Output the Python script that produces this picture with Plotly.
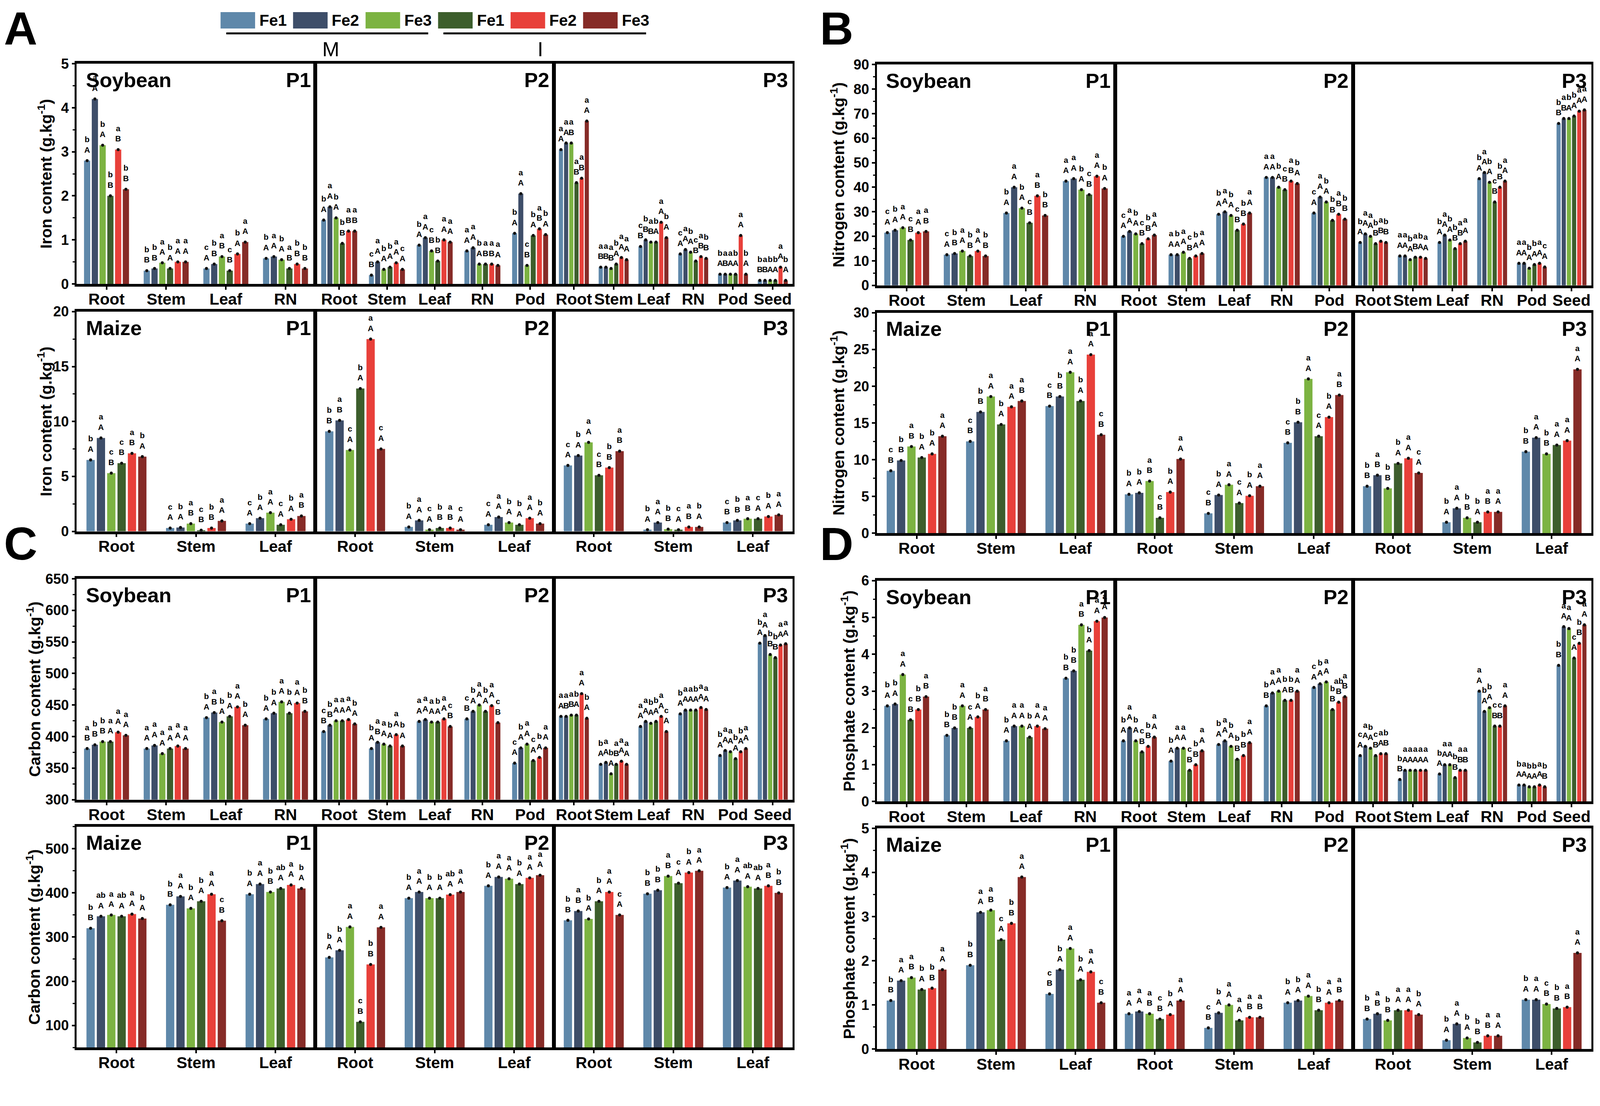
import plotly.graph_objects as go

treatments = ["Fe1", "Fe2", "Fe3", "Fe1", "Fe2", "Fe3"]
colors = ["#5f88aa", "#3e4e69", "#7cb342", "#3d5e2c", "#e8403a", "#862b27"]

soy_organs_p1 = ["Root", "Stem", "Leaf", "RN"]
soy_organs_p2 = ["Root", "Stem", "Leaf", "RN", "Pod"]
soy_organs_p3 = ["Root", "Stem", "Leaf", "RN", "Pod", "Seed"]
maize_organs = ["Root", "Stem", "Leaf"]

# one row per organ; columns: M-Fe1, M-Fe2, M-Fe3, I-Fe1, I-Fe2, I-Fe3
iron_soy_p1 = [[2.8, 4.2, 3.15, 2.0, 3.05, 2.15],
               [0.3, 0.35, 0.48, 0.35, 0.5, 0.5],
               [0.35, 0.45, 0.62, 0.3, 0.68, 0.95],
               [0.58, 0.62, 0.55, 0.35, 0.45, 0.35]]
iron_soy_p2 = [[1.45, 1.75, 1.5, 0.92, 1.2, 1.2],
               [0.2, 0.5, 0.33, 0.38, 0.48, 0.33],
               [0.88, 1.05, 0.75, 0.52, 1.0, 0.95],
               [0.75, 0.82, 0.45, 0.45, 0.45, 0.42],
               [1.15, 2.05, 0.42, 1.1, 1.25, 1.12]]
iron_soy_p3 = [[3.05, 3.2, 3.2, 2.3, 2.4, 3.7],
               [0.38, 0.38, 0.35, 0.45, 0.6, 0.55],
               [0.85, 1.0, 0.95, 0.95, 1.4, 1.05],
               [0.68, 0.78, 0.72, 0.52, 0.62, 0.58],
               [0.22, 0.22, 0.22, 0.22, 1.1, 0.22],
               [0.08, 0.08, 0.08, 0.08, 0.38, 0.08]]
iron_maize_p1 = [[6.5, 8.5, 5.3, 6.2, 7.1, 6.8],
                 [0.3, 0.35, 0.7, 0.1, 0.3, 0.95],
                 [0.7, 1.2, 1.7, 0.6, 1.1, 1.4]]
iron_maize_p2 = [[9.1, 10.1, 7.4, 13.0, 17.5, 7.5],
                 [0.4, 1.0, 0.15, 0.3, 0.3, 0.15],
                 [0.6, 1.3, 0.8, 0.6, 1.2, 0.7]]
iron_maize_p3 = [[6.0, 6.9, 8.1, 5.1, 5.8, 7.3],
                 [0.15, 0.8, 0.2, 0.15, 0.4, 0.4],
                 [0.8, 1.0, 1.15, 1.15, 1.35, 1.5]]

nitrogen_soy_p1 = [[21.5, 22.5, 23.5, 18.5, 21.5, 22],
                   [12.5, 13, 14, 12, 14, 12],
                   [29.5, 40, 31.5, 25.5, 36.5, 28.5],
                   [42.5, 43.5, 39, 37, 44.5, 39.5]]
nitrogen_soy_p2 = [[20, 22, 21, 17, 19, 20.5],
                   [12.5, 12.5, 13.5, 11, 12, 13],
                   [29, 30, 28.5, 22.5, 25, 29.5],
                   [44, 44, 40, 39, 42.5, 41.5],
                   [29.5, 36, 34, 26.5, 29, 27]]
nitrogen_soy_p3 = [[17.5, 21, 20, 17, 18, 17.5],
                   [12, 12, 10.5, 11.5, 11.5, 11],
                   [17.5, 20.5, 18.5, 15, 17, 18],
                   [43.5, 46, 42, 34, 40, 42.5],
                   [9, 9, 7, 8.5, 9, 7.5],
                   [66, 68, 68, 69, 71, 71.5]]
nitrogen_maize_p1 = [[8.5, 9.9, 11.8, 10.3, 10.8, 13.2],
                     [12.5, 16.5, 18.6, 14.8, 17.2, 18.0],
                     [17.3, 18.6, 21.9, 18.0, 24.3, 13.4]]
nitrogen_maize_p2 = [[5.3, 5.5, 7.1, 2.1, 5.6, 10.1],
                     [2.7, 5.2, 6.6, 4.1, 5.1, 6.4],
                     [12.3, 15.1, 21.0, 13.2, 15.8, 18.8]]
nitrogen_maize_p3 = [[6.4, 7.9, 6.1, 9.5, 10.2, 8.2],
                     [1.5, 3.4, 2.1, 1.5, 2.9, 2.9],
                     [11.1, 13.0, 10.8, 12.0, 12.6, 22.3]]

carbon_soy_p1 = [[381, 387, 392, 392, 407, 402],
                 [381, 386, 373, 381, 385, 381],
                 [430, 438, 423, 432, 447, 418],
                 [428, 437, 455, 437, 453, 440]]
carbon_soy_p2 = [[408, 418, 425, 425, 427, 420],
                 [381, 391, 388, 385, 403, 385],
                 [424, 427, 423, 423, 428, 416],
                 [428, 440, 450, 440, 449, 422],
                 [358, 382, 388, 362, 367, 382]]
carbon_soy_p3 = [[432, 432, 434, 434, 468, 429],
                 [356, 359, 341, 356, 361, 356],
                 [416, 424, 421, 424, 432, 408],
                 [436, 442, 442, 442, 446, 443],
                 [370, 378, 376, 365, 376, 381],
                 [548, 560, 530, 525, 545, 547]]
carbon_maize_p1 = [[320, 347, 350, 347, 352, 342],
                   [373, 392, 365, 381, 397, 337],
                   [397, 420, 402, 410, 418, 410]]
carbon_maize_p2 = [[254, 270, 323, 108, 238, 322],
                   [388, 402, 388, 388, 396, 402],
                   [416, 436, 432, 420, 434, 440]]
carbon_maize_p3 = [[338, 359, 341, 381, 402, 350],
                   [398, 406, 438, 422, 446, 450],
                   [412, 428, 414, 410, 416, 400]]

phosphate_soy_p1 = [[2.6, 2.65, 3.45, 2.22, 2.5, 2.85],
                    [1.8, 2.0, 2.6, 2.0, 2.3, 2.5],
                    [1.65, 2.05, 2.05, 1.75, 2.05, 1.98],
                    [3.35, 3.55, 4.8, 4.1, 4.9, 5.0]]
phosphate_soy_p2 = [[1.65, 2.0, 1.65, 1.35, 1.5, 1.75],
                    [1.1, 1.45, 1.45, 0.85, 1.0, 1.38],
                    [1.55, 1.65, 1.5, 1.15, 1.25, 1.6],
                    [2.6, 2.95, 3.0, 2.75, 2.75, 3.0],
                    [3.1, 3.2, 3.25, 2.5, 2.7, 2.85]]
phosphate_soy_p3 = [[1.25, 1.5, 1.45, 1.25, 1.3, 1.3],
                    [0.6, 0.85, 0.85, 0.85, 0.85, 0.85],
                    [0.75, 1.0, 1.0, 0.65, 0.85, 0.85],
                    [3.0, 2.45, 2.55, 2.05, 2.05, 2.6],
                    [0.45, 0.45, 0.4, 0.4, 0.45, 0.4],
                    [3.7, 4.75, 4.7, 3.9, 4.3, 4.8]]
phosphate_maize_p1 = [[1.1, 1.55, 1.62, 1.35, 1.38, 1.8],
                      [1.9, 3.1, 3.15, 2.48, 2.85, 3.9],
                      [1.25, 1.8, 2.28, 1.57, 1.75, 1.05]]
phosphate_maize_p2 = [[0.8, 0.85, 0.8, 0.68, 0.78, 1.1],
                      [0.48, 0.82, 1.0, 0.65, 0.72, 0.72],
                      [1.05, 1.1, 1.2, 0.88, 1.05, 1.1]]
phosphate_maize_p3 = [[0.68, 0.8, 0.65, 0.88, 0.88, 0.78],
                      [0.2, 0.57, 0.25, 0.15, 0.3, 0.3],
                      [1.12, 1.12, 1.02, 0.92, 0.95, 2.18]]

# significance letters per organ (lowercase over uppercase), same bar order
sig_iron_soy_p1 = ["b/A a/A b/A b/B a/B b/B", "b/B b/B a/A b/A a/A a/A",
                   "c/A b/B a/B c/B b/A a/A", "b/A a/A b/A a/B b/B b/B"]
sig_iron_soy_p2 = ["b/A a/A b/A b/B a/B a/B", "c/B a/A b/A b/A a/A c/A",
                   "b/A a/A c/B b/B a/A a/A", "a/A a/A b/A a/B a/B a/A",
                   "b/A a/A c/B b/A a/B b/A"]
sig_iron_soy_p3 = ["a/A a/A a/B a/B a/B a/A", "a/B a/B a/B b/A a/A a/A",
                   "c/B b/B a/B b/A a/A b/A", "c/A a/A b/A c/B a/B b/B",
                   "b/A a/B a/A b/A a/A b/A", "b/B a/B b/A b/A a/A b/A"]
sig_iron_maize_p1 = ["b/A a/A c/B c/B a/B b/A", "c/A b/A a/B c/B b/B a/A",
                     "c/A b/A a/A c/A b/A a/B"]
sig_iron_maize_p2 = ["b/B a/B c/A b/A a/A c/A", "b/A a/A c/A b/B a/B c/A",
                     "c/A a/A b/A b/A a/A b/A"]
sig_iron_maize_p3 = ["c/A b/A a/A c/B b/B a/B", "b/A a/A b/B c/A a/B b/A",
                     "c/B b/B a/B c/A b/A a/A"]

sig_nitrogen_soy_p1 = ["c/A b/A a/A c/B a/A a/B", "c/A b/B a/A b/B a/A b/B",
                       "b/A a/A b/A c/B a/B b/B", "a/A a/A b/A c/B a/A b/A"]
sig_nitrogen_soy_p2 = ["c/A a/A b/A c/B b/B a/A", "a/A b/A a/A c/B b/A a/A",
                       "b/A a/A b/A c/B b/B a/A", "a/A a/A b/A c/B a/B b/A",
                       "c/A a/A b/A b/B a/B b/B"]
sig_nitrogen_soy_p3 = ["b/A a/A a/A b/B a/B b/B", "a/A a/A b/A a/B b/A a/A",
                       "b/A a/A b/A b/B a/B a/A", "b/A a/A b/A c/B b/B a/A",
                       "a/A a/A b/A b/A a/A c/A", "b/B a/B b/A b/A a/A a/A"]
sig_nitrogen_maize_p1 = ["c/B b/B a/B b/A b/A a/A", "c/B b/B a/A b/A a/A a/B",
                         "c/B b/B a/A b/A a/A c/B"]
sig_nitrogen_maize_p2 = ["b/A b/A a/B c/B b/A a/A", "c/B b/A a/A c/A b/A a/A",
                         "c/B b/B a/A c/A b/A a/B"]
sig_nitrogen_maize_p3 = ["b/B a/B b/B b/A a/A c/A", "b/A a/A b/B b/A a/B a/A",
                         "b/B a/A b/B a/A a/A a/A"]

sig_carbon_soy_p1 = ["a/B b/B b/B a/A a/A a/A", "a/A a/A a/A a/A a/A a/A",
                     "b/A a/B b/A b/A a/A b/A", "b/A b/A a/A b/A a/A b/B"]
sig_carbon_soy_p2 = ["c/B b/B a/A a/A a/A b/A", "b/A a/B a/A b/A a/A b/A",
                     "a/A a/A a/A b/A a/A c/B", "c/B b/A a/A b/A a/A c/B",
                     "c/A b/A a/A c/A b/A a/A"]
sig_carbon_soy_p3 = ["a/A a/B a/B b/A a/A b/A", "b/A a/A b/A a/B a/A a/A",
                     "a/A a/A b/A b/A a/A c/A", "b/A a/A a/A b/A a/A a/A",
                     "b/A a/A a/A b/A b/A a/A", "b/A a/A b/B b/B a/A a/A"]
sig_carbon_maize_p1 = ["b/B ab/A a/A ab/A a/A b/A", "b/B a/A b/A b/A a/A c/B",
                       "b/A a/A b/B ab/A a/A b/A"]
sig_carbon_maize_p2 = ["b/A b/A a/A c/B b/B a/A", "b/A a/A b/A b/A ab/A a/A",
                       "b/A a/A a/A b/A a/A a/A"]
sig_carbon_maize_p3 = ["b/B a/B b/A b/A a/A c/A", "b/B b/B a/B c/A b/A a/A",
                       "b/A a/A ab/A ab/A a/B b/B"]

sig_phosphate_soy_p1 = ["b/A b/A a/A c/B b/B a/B", "b/B b/B a/A c/A b/A a/B",
                        "b/A a/A a/A b/A a/A a/A", "b/B b/B a/B b/A a/A a/A"]
sig_phosphate_soy_p2 = ["b/A a/A b/A c/B b/B a/A", "b/A a/A a/A c/B b/B a/A",
                        "b/A a/A b/A b/B b/B a/A", "b/B a/A a/A b/A b/B a/A",
                        "c/A b/A a/A b/B ab/B a/B"]
sig_phosphate_soy_p3 = ["c/A a/A b/A c/B a/A b/B", "b/B a/A a/A a/A a/A a/A",
                        "b/A a/A a/A b/B a/B a/B", "a/A b/A b/A c/B c/B a/A",
                        "b/A a/A b/A b/A a/A b/B", "b/B a/A a/A c/A b/B a/A"]
sig_phosphate_maize_p1 = ["b/B a/A a/B b/A b/B a/A", "b/B a/A a/B c/A b/B a/A",
                          "c/B b/A a/A b/A a/A c/B"]
sig_phosphate_maize_p2 = ["a/A a/A a/B c/B b/A a/A", "c/B b/A a/A a/A a/B a/B",
                          "b/A b/A a/A b/B a/A a/B"]
sig_phosphate_maize_p3 = ["b/B a/B b/B a/A a/A b/A", "b/A a/A b/A b/B a/B a/A",
                          "b/A a/A c/B b/B a/B a/A"]

iron_ticks_soy = [0, 1, 2, 3, 4, 5]
iron_ticks_maize = [0, 5, 10, 15, 20]
nitrogen_ticks_soy = [0, 10, 20, 30, 40, 50, 60, 70, 80, 90]
nitrogen_ticks_maize = [0, 5, 10, 15, 20, 25, 30]
carbon_ticks_soy = [300, 350, 400, 450, 500, 550, 600, 650]
carbon_ticks_maize = [100, 200, 300, 400, 500]
phosphate_ticks_soy = [0, 1, 2, 3, 4, 5, 6]
phosphate_ticks_maize = [0, 1, 2, 3, 4, 5]

soy_organs = [soy_organs_p1, soy_organs_p2, soy_organs_p3]
maize_all = [maize_organs, maize_organs, maize_organs]

# the page is photographed slightly magnified; positions below are in
# reference-picture pixels and mapped into the figure
K = 1 / 1.029
OFF = 8
FW, FH = 4076, 2736
FONT = "Liberation Sans, Arial, sans-serif"
NARROW = "Liberation Sans Narrow, Arial Narrow, Liberation Sans, Arial, sans-serif"

# (crop, organs, data, letters, y range, ticks, minor dtick, box l/r/t/b, y title, title x)
panel_rows = [
    ("Soybean", soy_organs, [iron_soy_p1, iron_soy_p2, iron_soy_p3],
     [sig_iron_soy_p1, sig_iron_soy_p2, sig_iron_soy_p3],
     [0, 5], iron_ticks_soy, 0.5, (202, 2088, 168, 748),
     "Iron content (g.kg<sup>-1</sup>)", 118),
    ("Maize", maize_all, [iron_maize_p1, iron_maize_p2, iron_maize_p3],
     [sig_iron_maize_p1, sig_iron_maize_p2, sig_iron_maize_p3],
     [0, 20], iron_ticks_maize, 2.5, (202, 2088, 821, 1400),
     "Iron content (g.kg<sup>-1</sup>)", 118),
    ("Soybean", soy_organs, [nitrogen_soy_p1, nitrogen_soy_p2, nitrogen_soy_p3],
     [sig_nitrogen_soy_p1, sig_nitrogen_soy_p2, sig_nitrogen_soy_p3],
     [0, 90], nitrogen_ticks_soy, 5, (2310, 4192, 170, 752),
     "Nitrogen content (g.kg<sup>-1</sup>)", 2206),
    ("Maize", maize_all, [nitrogen_maize_p1, nitrogen_maize_p2, nitrogen_maize_p3],
     [sig_nitrogen_maize_p1, sig_nitrogen_maize_p2, sig_nitrogen_maize_p3],
     [0, 30], nitrogen_ticks_maize, 2.5, (2310, 4192, 824, 1405),
     "Nitrogen content (g.kg<sup>-1</sup>)", 2206),
    ("Soybean", soy_organs, [carbon_soy_p1, carbon_soy_p2, carbon_soy_p3],
     [sig_carbon_soy_p1, sig_carbon_soy_p2, sig_carbon_soy_p3],
     [300, 650], carbon_ticks_soy, 25, (202, 2088, 1525, 2107),
     "Carbon content (g.kg<sup>-1</sup>)", 88),
    ("Maize", maize_all, [carbon_maize_p1, carbon_maize_p2, carbon_maize_p3],
     [sig_carbon_maize_p1, sig_carbon_maize_p2, sig_carbon_maize_p3],
     [50, 550], carbon_ticks_maize, 50, (202, 2088, 2178, 2760),
     "Carbon content (g.kg<sup>-1</sup>)", 88),
    ("Soybean", soy_organs, [phosphate_soy_p1, phosphate_soy_p2, phosphate_soy_p3],
     [sig_phosphate_soy_p1, sig_phosphate_soy_p2, sig_phosphate_soy_p3],
     [0, 6], phosphate_ticks_soy, 0.5, (2310, 4192, 1530, 2112),
     "Phosphate content (g.kg<sup>-1</sup>)", 2234),
    ("Maize", maize_all, [phosphate_maize_p1, phosphate_maize_p2, phosphate_maize_p3],
     [sig_phosphate_maize_p1, sig_phosphate_maize_p2, sig_phosphate_maize_p3],
     [0, 5], phosphate_ticks_maize, 0.5, (2310, 4192, 2183, 2764),
     "Phosphate content (g.kg<sup>-1</sup>)", 2234),
]


def px_x(p):
    return (p * K - OFF) / FW


def px_y(p):
    return 1 - (p * K - OFF) / FH


def fs(n):
    return round(n * K, 1)


bargap = 0.22
slot = (1 - bargap) / 6

fig = go.Figure()
layout_axes = {}
annotations = []
shapes = []
n_ax = 0


def note(x, y, text, size, xanchor="center", yanchor="middle", angle=0):
    annotations.append(dict(
        x=x, y=y, xref="paper", yref="paper", text=text, showarrow=False,
        xanchor=xanchor, yanchor=yanchor, textangle=angle,
        font=dict(family=FONT, size=fs(size), color="black")))


for crop, organs_list, data_list, sig_list, yr, yticks, mdt, box, ytitle, tx in panel_rows:
    left, right, top, bottom = box
    pw = (right - left) / 3
    for k in range(3):
        n_ax += 1
        sfx = "" if n_ax == 1 else str(n_ax)
        xa, ya = "x" + sfx, "y" + sfx
        organs = organs_list[k]
        vals = data_list[k]
        sigs = sig_list[k]
        pos = list(range(len(organs)))
        for j in range(6):
            fig.add_trace(go.Bar(
                x=pos, y=[v[j] for v in vals], marker_color=colors[j],
                marker_line_width=0, xaxis=xa, yaxis=ya, showlegend=False,
                name=treatments[j]))
        dx, dy, dt = [], [], []
        for i, v in enumerate(vals):
            toks = sigs[i].split()
            for j in range(6):
                lo, up = toks[j].split("/")
                dx.append(i + (j - 2.5) * slot)
                dy.append(v[j])
                dt.append("<b>%s<br>%s</b>" % (lo, up))
        fig.add_trace(go.Scatter(
            x=dx, y=dy, mode="markers", xaxis=xa, yaxis=ya, showlegend=False,
            marker=dict(color="#111111", size=fs(8)), hoverinfo="skip"))
        fig.add_trace(go.Scatter(
            x=dx, y=dy, mode="markers+text", text=dt, textposition="top center",
            xaxis=xa, yaxis=ya, showlegend=False, cliponaxis=False,
            marker=dict(color="rgba(0,0,0,0)", size=fs(24)),
            textfont=dict(family=NARROW, size=fs(21), color="black"),
            hoverinfo="skip"))

        x0 = left + k * pw
        layout_axes["xaxis" + sfx] = dict(
            domain=[px_x(x0), px_x(x0 + pw)], anchor=ya,
            range=[-0.5, len(organs) - 0.5],
            tickvals=pos, ticktext=["<b>%s</b>" % o for o in organs], tickangle=0,
            tickfont=dict(family=FONT, size=fs(42), color="black"),
            ticklabelstandoff=-11,
            showline=True, linecolor="black", linewidth=fs(7), mirror=True,
            ticks="outside", ticklen=fs(8), tickwidth=fs(4), tickcolor="black",
            showgrid=False, zeroline=False, automargin=False)
        yax = dict(
            domain=[px_y(bottom), px_y(top)], anchor=xa, range=yr,
            showline=True, linecolor="black", linewidth=fs(5), mirror=True,
            showgrid=False, zeroline=False, automargin=False)
        if k == 0:
            yax.update(
                tickvals=yticks, ticktext=["<b>%g</b>" % t for t in yticks],
                ticks="outside", ticklen=fs(8), tickwidth=fs(4), tickcolor="black",
                tickfont=dict(family=FONT, size=fs(37), color="black"),
                minor=dict(ticks="outside", ticklen=fs(5), tickwidth=fs(3),
                           tickcolor="black", dtick=mdt, tick0=0))
        else:
            yax.update(showticklabels=False, ticks="")
        layout_axes["yaxis" + sfx] = yax

        if k == 0:
            note(px_x(x0 + 22), px_y(top + 10), "<b>%s</b>" % crop, 54,
                 xanchor="left", yanchor="top")
        note(px_x(x0 + pw - 10), px_y(top + 10), "<b>P%d</b>" % (k + 1), 54,
             xanchor="right", yanchor="top")

    note(px_x(tx), px_y((top + bottom) / 2), "<b>%s</b>" % ytitle, 42, angle=-90)

# quadrant letters
for letter, lx, ly in [("A", 55, 75), ("B", 2204, 75), ("C", 55, 1432), ("D", 2204, 1433)]:
    note(px_x(lx), px_y(ly), "<b>%s</b>" % letter, 122)

# custom legend
for j in range(6):
    bx = 581 + j * 191
    shapes.append(dict(type="rect", xref="paper", yref="paper",
                       x0=px_x(bx), x1=px_x(bx + 91), y0=px_y(75), y1=px_y(32),
                       fillcolor=colors[j], line=dict(width=0)))
    note(px_x(bx + 100), px_y(54), "<b>%s</b>" % treatments[j], 42, xanchor="left")
for gx0, gx1, gname, gcx in [(596, 1128, "M", 872), (1168, 1702, "I", 1424)]:
    shapes.append(dict(type="line", xref="paper", yref="paper",
                       x0=px_x(gx0), x1=px_x(gx1), y0=px_y(88), y1=px_y(88),
                       line=dict(color="black", width=fs(5))))
    note(px_x(gcx), px_y(129), gname, 54)

fig.update_layout(
    width=FW, height=FH, margin=dict(l=0, r=0, t=0, b=0, autoexpand=False),
    paper_bgcolor="white", plot_bgcolor="white",
    barmode="group", bargap=bargap, bargroupgap=0.2,
    annotations=annotations, shapes=shapes, showlegend=False,
    font=dict(family=FONT, color="black"),
    **layout_axes)

fig.write_html("out.html")
